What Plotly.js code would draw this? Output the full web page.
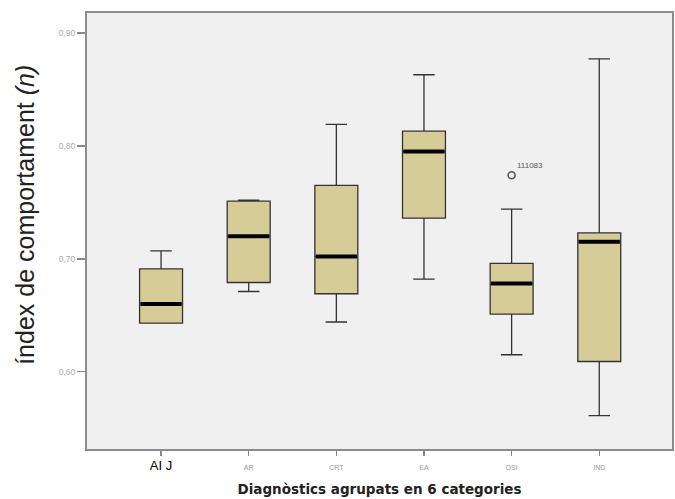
<!DOCTYPE html>
<html>
<head>
<meta charset="utf-8">
<script src="https://cdn.plot.ly/plotly-3.0.1.min.js"></script>
<style>html,body{margin:0;padding:0;background:#fff;}#chart{width:675px;height:499px;}</style>
</head>
<body>
<div id="chart"></div>
<script>
// Data
const categories = ["AI J", "AR", "CRT", "EA", "OSI", "IND"];
const lowerWhisker = [0.643, 0.671, 0.644, 0.682, 0.615, 0.561];
const q1Values     = [0.643, 0.679, 0.669, 0.736, 0.651, 0.609];
const medians      = [0.660, 0.720, 0.702, 0.795, 0.678, 0.715];
const q3Values     = [0.691, 0.751, 0.765, 0.813, 0.696, 0.723];
const upperWhisker = [0.707, 0.752, 0.819, 0.863, 0.744, 0.877];
const outlierCategory = ["OSI"];
const outlierValues = [0.774];
const outlierLabels = ["111083"];
const yTitle = 'índex de comportament <i>(n)</i>';
const xTitle = 'Diagnòstics agrupats en 6 categories';

const boxWidth = 0.49;
const xIdx = categories.map((_, i) => i);

const boxTrace = {
  type: 'box',
  x: xIdx,
  q1: q1Values,
  median: medians,
  q3: q3Values,
  lowerfence: lowerWhisker,
  upperfence: upperWhisker,
  width: boxWidth,
  whiskerwidth: 0.5,
  fillcolor: '#d6cc98',
  line: {color: '#333333', width: 1.3},
  boxpoints: false,
  hoverinfo: 'skip',
  showlegend: false
};

// thick median bars
const mx = [], my = [];
xIdx.forEach((x, i) => {
  mx.push(x - boxWidth / 2 + 0.01, x + boxWidth / 2 - 0.01, null);
  my.push(medians[i], medians[i], null);
});
const medianTrace = {
  type: 'scatter', mode: 'lines', x: mx, y: my,
  line: {color: '#000000', width: 4},
  hoverinfo: 'skip', showlegend: false
};

const outlierTrace = {
  type: 'scatter', mode: 'markers+text',
  x: outlierCategory.map(c => categories.indexOf(c)),
  y: outlierValues,
  text: outlierLabels,
  textposition: 'top right',
  textfont: {family: 'Arial, Liberation Sans, sans-serif', size: 8, color: '#555'},
  marker: {symbol: 'circle-open', size: 7, color: '#555', line: {width: 1.6, color: '#555'}},
  hoverinfo: 'skip', showlegend: false
};

const tickText = categories.map((c, i) => i === 0
  ? '<span style="font-size:13px;color:#000">' + c + '</span>'
  : c);

const layout = {
  width: 675, height: 499,
  margin: {l: 87, r: 3, t: 13, b: 50},
  paper_bgcolor: '#ffffff',
  plot_bgcolor: '#f0f0f0',
  separators: ',.',
  font: {family: 'Arial, Liberation Sans, sans-serif', color: '#999'},
  xaxis: {
    range: [-0.845, 5.83],
    tickvals: xIdx, ticktext: tickText,
    tickfont: {size: 7, color: '#999'},
    ticks: 'outside', ticklen: 5, tickcolor: '#888', tickwidth: 1.5,
    ticklabelstandoff: 6,
    showgrid: false, zeroline: false,
    showline: true, mirror: true, linecolor: '#8c8c8c', linewidth: 2,
    title: {text: xTitle,
            font: {size: 13.5, color: '#222', family: 'DejaVu Sans, Verdana, sans-serif', weight: 'bold'},
            standoff: 12}
  },
  yaxis: {
    range: [0.5315, 0.9177],
    tickvals: [0.6, 0.7, 0.8, 0.9],
    tickformat: '.2f',
    tickfont: {size: 8.5, color: '#aaa'},
    ticks: 'outside', ticklen: 8, tickcolor: '#888', tickwidth: 1.5,
    showgrid: false, zeroline: false,
    showline: true, mirror: true, linecolor: '#8c8c8c', linewidth: 2
  },
  annotations: [{
    text: yTitle, textangle: -90,
    xref: 'paper', yref: 'paper', x: -0.106, y: 0.537,
    xanchor: 'center', yanchor: 'middle', showarrow: false,
    font: {size: 25, color: '#222', family: 'Arial, Liberation Sans, sans-serif'}
  }]
};

Plotly.newPlot('chart', [boxTrace, medianTrace, outlierTrace], layout, {displayModeBar: false, staticPlot: true});
</script>
</body>
</html>
